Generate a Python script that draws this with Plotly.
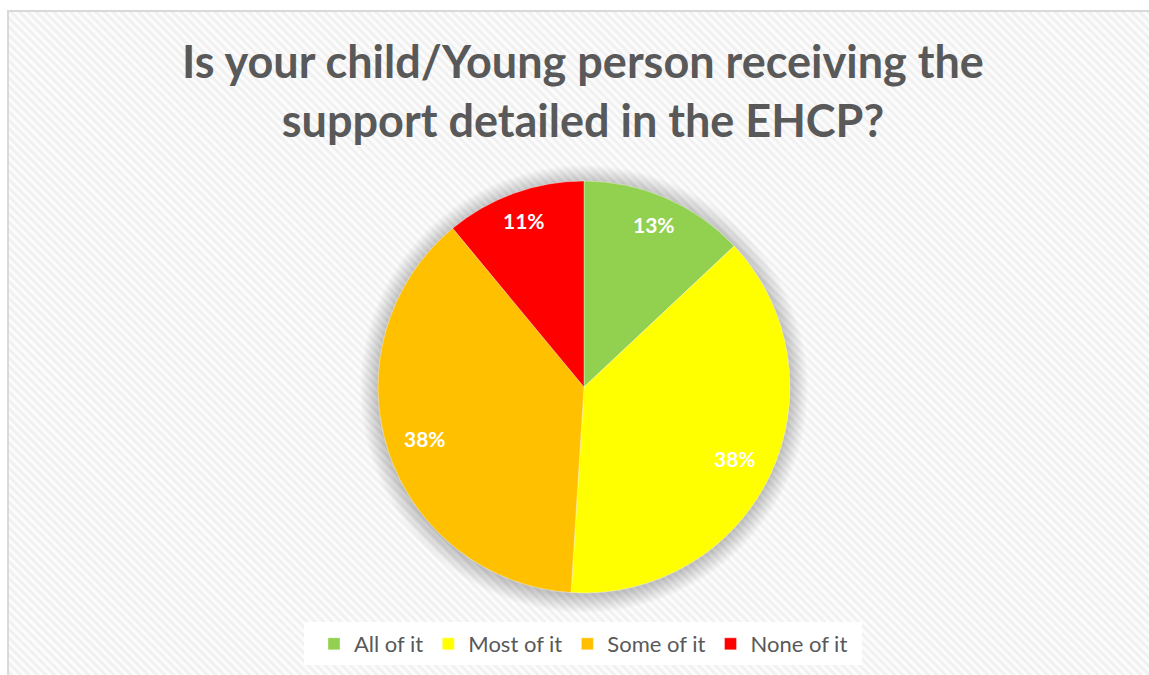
import base64
import math

import plotly.graph_objects as go

# Survey answers and their shares (percent)
categories = ["All of it", "Most of it", "Some of it", "None of it"]
shares = [13, 38, 38, 11]
slice_colors = ["#92D050", "#FFFF00", "#FFC000", "#FF0000"]
title_lines = ["Is your child/Young person receiving the", "support detailed in the EHCP?"]

W, H = 1149, 675
TEXT_GREY = "#595959"

# Pie placement (pixels): centre and radius
PIE_CX, PIE_CY, PIE_R = 584, 387, 206
dom_x = [(PIE_CX - PIE_R) / W, (PIE_CX + PIE_R) / W]
dom_y = [1 - (PIE_CY + PIE_R) / H, 1 - (PIE_CY - PIE_R) / H]

# Radial position of each percentage label, as a fraction of the radius
label_radius = [0.86, 0.81, 0.81, 0.86]

# Chart-area frame (pixels)
FRAME_X0, FRAME_Y0 = 8, 11

# Legend box (pixels)
LEG_X0, LEG_X1, LEG_Y0, LEG_Y1 = 304, 862, 622, 665

# Light diagonal hatch used as the chart-area fill
hatch_svg = (
    f'<svg xmlns="http://www.w3.org/2000/svg" width="{W - FRAME_X0}" height="{H - FRAME_Y0}">'
    '<defs><pattern id="h" width="6" height="6" patternUnits="userSpaceOnUse" '
    'patternTransform="rotate(-45)">'
    '<rect width="6" height="6" fill="#FCFCFC"/>'
    '<rect width="3" height="6" fill="#F1F1F1"/></pattern></defs>'
    '<rect width="100%" height="100%" fill="url(#h)"/></svg>'
)
hatch_uri = "data:image/svg+xml;base64," + base64.b64encode(hatch_svg.encode()).decode()

fig = go.Figure()
fig.add_trace(
    go.Pie(
        labels=categories,
        values=shares,
        sort=False,
        direction="clockwise",
        rotation=0,
        marker=dict(colors=slice_colors, line=dict(color="rgba(255,255,255,0.6)", width=0.6)),
        textinfo="none",
        hoverinfo="label+percent",
        domain=dict(x=dom_x, y=dom_y),
        showlegend=True,
    )
)

# Percentage labels placed on each slice's bisector
total = sum(shares)
cum = 0.0
cx_p = (dom_x[0] + dom_x[1]) / 2
cy_p = (dom_y[0] + dom_y[1]) / 2
for val, frac in zip(shares, label_radius):
    mid = (cum + val / 2) / total * 2 * math.pi
    cum += val
    fig.add_annotation(
        x=cx_p + frac * PIE_R * math.sin(mid) / W,
        y=cy_p + frac * PIE_R * math.cos(mid) / H,
        xref="paper", yref="paper",
        text=f"<b>{val}%</b>",
        showarrow=False,
        font=dict(family="Lato", size=21, color="white"),
        xanchor="center", yanchor="middle",
    )

# Soft shadow halo behind the pie
shapes = []
for k in range(1, 19):
    rr = PIE_R + k
    shapes.append(dict(
        type="circle", xref="paper", yref="paper", layer="below",
        x0=(PIE_CX - rr) / W, x1=(PIE_CX + rr) / W,
        y0=1 - (PIE_CY + 2 + rr) / H, y1=1 - (PIE_CY + 2 - rr) / H,
        fillcolor="rgba(0,0,0,0.012)", line=dict(width=0),
    ))
# White panel behind the legend
shapes.append(dict(
    type="rect", xref="paper", yref="paper", layer="below",
    x0=LEG_X0 / W, x1=LEG_X1 / W, y0=1 - LEG_Y1 / H, y1=1 - LEG_Y0 / H,
    fillcolor="white", line=dict(width=0),
))
# Chart-area border
shapes.append(dict(
    type="rect", xref="paper", yref="paper", layer="above",
    x0=FRAME_X0 / W, x1=1.02, y0=-0.02, y1=1 - FRAME_Y0 / H,
    line=dict(color="#D9D9D9", width=2), fillcolor="rgba(0,0,0,0)",
))

fig.update_layout(
    width=W, height=H,
    margin=dict(l=0, r=0, t=0, b=0),
    paper_bgcolor="white",
    plot_bgcolor="white",
    font=dict(family="Lato", color=TEXT_GREY),
    title=dict(
        text="<b>" + "<br>".join(title_lines) + "</b>",
        x=583 / W, xanchor="center", xref="paper",
        y=1 - 78 / H, yanchor="top", yref="container",
        font=dict(family="Lato", size=45, color=TEXT_GREY),
    ),
    legend=dict(
        orientation="h",
        x=(LEG_X0 + 10) / W, xanchor="left",
        y=1 - (LEG_Y0 + 1) / H, yanchor="top",
        bgcolor="rgba(0,0,0,0)",
        font=dict(family="Lato", size=22, color=TEXT_GREY),
        traceorder="normal",
    ),
    images=[dict(
        source=hatch_uri, xref="paper", yref="paper",
        x=FRAME_X0 / W, y=1 - FRAME_Y0 / H,
        sizex=(W - FRAME_X0) / W, sizey=(H - FRAME_Y0) / H,
        xanchor="left", yanchor="top", sizing="stretch", layer="below",
    )],
    shapes=shapes,
)

fig.write_html("out.html")
